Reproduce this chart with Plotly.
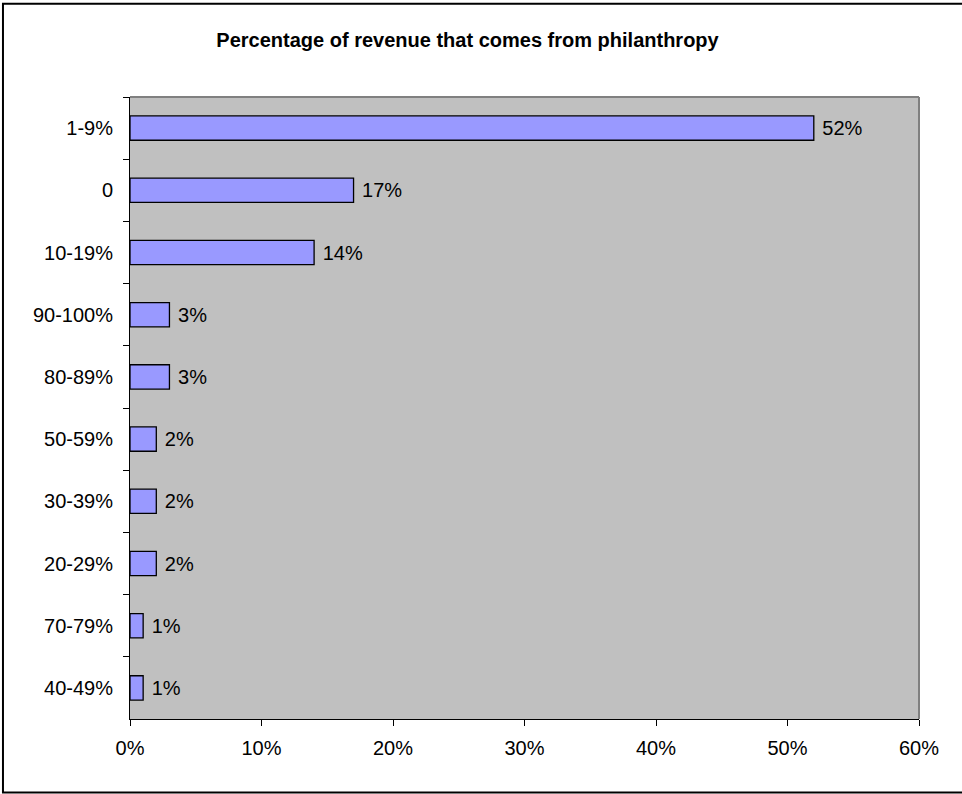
import plotly.graph_objects as go

# Share of organisations by percentage of revenue from philanthropy
categories = ["1-9%", "0", "10-19%", "90-100%", "80-89%",
              "50-59%", "30-39%", "20-29%", "70-79%", "40-49%"]
shares = [52, 17, 14, 3, 3, 2, 2, 2, 1, 1]  # percent
x_ticks = [0, 10, 20, 30, 40, 50, 60]
x_tick_labels = [f"{v}%" for v in x_ticks]

FONT = "Liberation Sans, Arial, sans-serif"
NBSP = "\u00a0"

fig = go.Figure(
    go.Bar(
        y=categories,
        x=shares,
        orientation="h",
        marker=dict(color="#9999FF", line=dict(color="#000000", width=1.3)),
        text=[f"{NBSP}{v}%" for v in shares],
        textposition="outside",
        textfont=dict(family=FONT, size=20, color="#000000"),
        cliponaxis=False,
    )
)

fig.update_layout(
    width=962,
    height=794,
    margin=dict(l=130, r=43, t=97, b=75),
    paper_bgcolor="#FFFFFF",
    plot_bgcolor="#C0C0C0",
    bargap=0.61,
    showlegend=False,
    title=dict(
        text="<b>Percentage of revenue that comes from philanthropy</b>",
        font=dict(family=FONT, size=20, color="#000000"),
        x=0.486,
        xanchor="center",
        y=1 - 40 / 794,
        yanchor="middle",
    ),
    font=dict(family=FONT, size=20, color="#000000"),
)

fig.update_xaxes(
    range=[0, 60],
    tickvals=x_ticks,
    ticktext=x_tick_labels,
    ticks="outside",
    ticklen=6,
    tickcolor="#000000",
    tickwidth=1,
    ticklabelstandoff=5,
    showgrid=False,
    zeroline=False,
    showline=True,
    linecolor="#000000",
    linewidth=1,
    mirror=False,
    tickfont=dict(family=FONT, size=20, color="#000000"),
)

fig.update_yaxes(
    categoryorder="array",
    categoryarray=categories,
    autorange="reversed",
    ticks="outside",
    tickson="boundaries",
    ticklen=6,
    tickcolor="#000000",
    tickwidth=1,
    ticklabelstandoff=12,
    showgrid=False,
    showline=True,
    linecolor="#000000",
    linewidth=1,
    tickfont=dict(family=FONT, size=20, color="#000000"),
)

# Gray frame on the top and right of the plot area, outer chart border
fig.add_shape(type="line", xref="paper", yref="paper", x0=0, x1=1, y0=1, y1=1,
              line=dict(color="#808080", width=2))
fig.add_shape(type="line", xref="paper", yref="paper", x0=1, x1=1, y0=0, y1=1,
              line=dict(color="#808080", width=2))
fig.add_shape(type="rect", xref="paper", yref="paper",
              x0=-0.161, x1=1.2, y0=-0.118, y1=1.150,
              line=dict(color="#000000", width=2), layer="below")

fig.write_html("out.html")
